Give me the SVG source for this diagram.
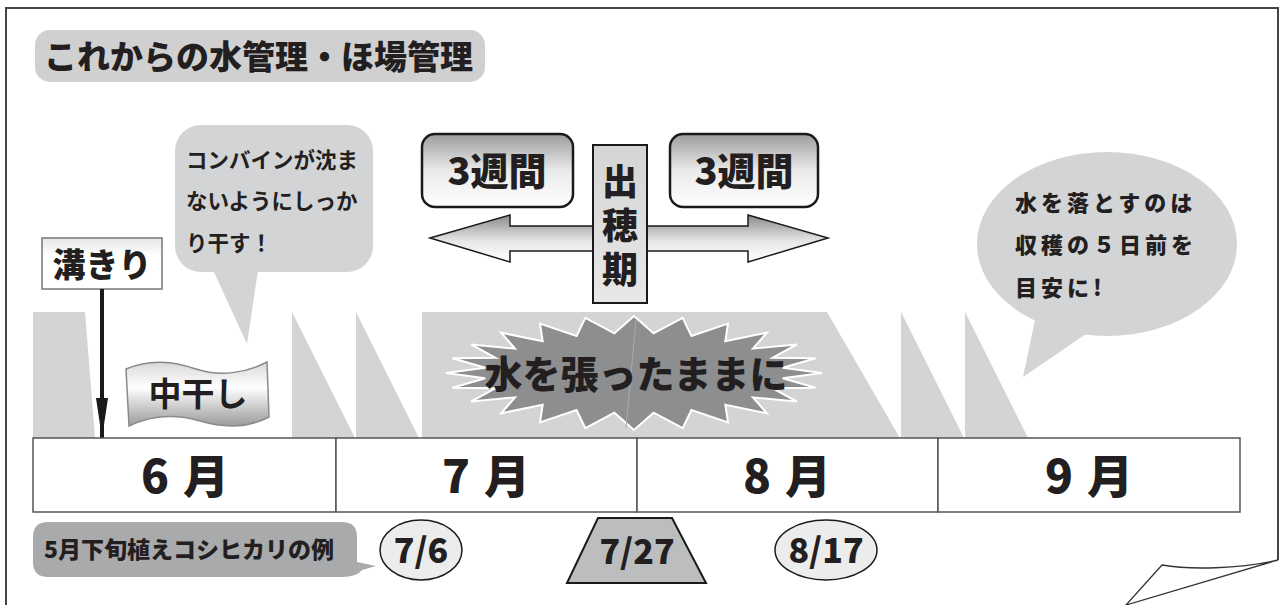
<svg xmlns="http://www.w3.org/2000/svg" width="1282" height="605" viewBox="0 0 1282 605">
<defs>
<style>
.jp{font-family:"Noto Sans CJK JP","Noto Sans CJK SC",sans-serif;fill:#231f20}
.hv{font-weight:900}
.bd{font-weight:700}
.md{font-weight:500}
.bg{fill:#d3d4d6}
.cell{fill:#fff;stroke:#555;stroke-width:1.5}
.mon{font-size:46px;letter-spacing:14px}
</style>
<linearGradient id="gBox" x1="0" y1="0" x2="0" y2="1">
<stop offset="0" stop-color="#9c9c9c"/><stop offset="0.5" stop-color="#eaeaea"/><stop offset="1" stop-color="#ffffff"/>
</linearGradient>
<linearGradient id="gArrow" x1="0" y1="0" x2="0" y2="1">
<stop offset="0" stop-color="#8a8a8a"/><stop offset="0.55" stop-color="#e6e6e6"/><stop offset="1" stop-color="#ffffff"/>
</linearGradient>
<linearGradient id="gFlag" x1="0" y1="0" x2="0" y2="1">
<stop offset="0" stop-color="#d8d8d8"/><stop offset="0.4" stop-color="#ffffff"/><stop offset="1" stop-color="#9a9a9a"/>
</linearGradient>
<linearGradient id="gTag" x1="0" y1="0" x2="0" y2="1">
<stop offset="0" stop-color="#e6e6e6"/><stop offset="0.35" stop-color="#ffffff"/><stop offset="1" stop-color="#ffffff"/>
</linearGradient>
<linearGradient id="gPost" x1="0" y1="0" x2="0" y2="1">
<stop offset="0" stop-color="#d4d4d4"/><stop offset="1" stop-color="#e8e8e8"/>
</linearGradient>
<marker id="ah" viewBox="0 0 40 12" refX="40" refY="6" markerWidth="40" markerHeight="12" markerUnits="userSpaceOnUse" orient="auto">
<path d="M0,0 L40,6 L0,12 Z" fill="#1a1a1a"/>
</marker>
</defs>

<!-- frame -->
<path id="frame" d="M6,605 L6,8 L1278,8 L1278,560" fill="none" stroke="#444" stroke-width="2"/>
<path id="curl" d="M1278,560 C1240,569 1190,570 1162,565 L1126,605 Z" fill="#fff" stroke="#333" stroke-width="1.3" stroke-linejoin="miter"/>

<!-- background gray bands -->
<g id="bands">
<path class="bg" d="M33,312 L85,312 L95,438 L33,438 Z"/>
<path class="bg" d="M292,312 L355,438 L292,438 Z"/>
<path class="bg" d="M356,312 L419,438 L356,438 Z"/>
<path class="bg" d="M422,312 L827,312 L900,438 L422,438 Z"/>
<path class="bg" d="M901,312 L964,438 L901,438 Z"/>
<path class="bg" d="M965,312 L1028,438 L965,438 Z"/>
</g>

<!-- title -->
<g id="title">
<rect x="35" y="30" width="450" height="52" rx="15" fill="#d0d0d0"/>
<text class="jp hv" x="44" y="69" font-size="33">これからの水管理・ほ場管理</text>
</g>

<!-- bubble combine -->
<g id="bubble1">
<path d="M213,270 L247,344 L258,270 Z" fill="#d3d4d6"/>
<rect x="175" y="125" width="198" height="147" rx="26" fill="#d3d4d6"/>
<text class="jp bd" font-size="21.5" x="186" y="168">コンバインが沈ま</text>
<text class="jp bd" font-size="21.5" x="186" y="209">ないようにしっか</text>
<text class="jp bd" font-size="21.5" x="186" y="251">り干す！</text>
</g>

<!-- mizokiri -->
<g id="mizokiri">
<rect x="42" y="238" width="120" height="51" fill="url(#gTag)" stroke="#777" stroke-width="1.5"/>
<text class="jp hv" font-size="33" x="102" y="277" text-anchor="middle">溝きり</text>
</g>

<!-- nakaboshi -->
<g id="nakaboshi">
<path d="M126,369 C150,359 172,361 196,369 C220,377 246,373 267,362 L269,417 C248,428 224,428 200,421 C176,414 152,415 129,426 Z" fill="url(#gFlag)" stroke="#8a8a8a" stroke-width="1.5"/>
<text class="jp bd" font-size="33" x="198" y="406" text-anchor="middle">中干し</text>
</g>

<!-- starburst -->
<g id="burst">
<polygon points="822,373 782.7,378.2 815.6,387.8 772.6,388.3 796.8,401.5 753,397.4 766.9,413.3 725.3,404.7 728,422.4 691.4,410 682.7,428.1 653.6,412.7 634,430 614.4,412.7 585.3,428.1 576.6,410 540,422.4 542.7,404.7 501.1,413.3 515,397.4 471.2,401.5 495.4,388.3 452.4,387.8 485.3,378.2 446,373 485.3,367.8 452.4,358.2 495.4,357.7 471.2,344.5 515,348.6 501.1,332.7 542.7,341.3 540,323.6 576.6,336 585.3,317.9 614.4,333.3 634,316 653.6,333.3 682.7,317.9 691.4,336 728,323.6 725.3,341.3 766.9,332.7 753,348.6 796.8,344.5 772.6,357.7 815.6,358.2 782.7,367.8" fill="#8d8e90" stroke="#ffffff" stroke-width="2" stroke-linejoin="miter"/>
<line x1="636" y1="320" x2="626" y2="428" stroke="#a9aaac" stroke-width="1"/>
<text class="jp hv" font-size="38" x="636" y="388" text-anchor="middle">水を張ったままに</text>
</g>

<!-- connectors -->
<g id="connectors">
<path d="M430,238 L510,215 L510,226 L748,226 L748,215 L828,238 L748,262 L748,251 L510,251 L510,262 Z" fill="url(#gArrow)" stroke="#1a1a1a" stroke-width="1.5" stroke-linejoin="miter"/>
<line x1="102" y1="289" x2="102" y2="438" stroke="#1a1a1a" stroke-width="4" marker-end="url(#ah)"/>
</g>

<!-- 3 weeks boxes -->
<g id="weeksL">
<rect x="422" y="134" width="151" height="73" rx="13" fill="url(#gBox)" stroke="#1a1a1a" stroke-width="2.5"/>
<text class="jp hv" font-size="38" x="497" y="185" text-anchor="middle">3週間</text>
</g>
<g id="weeksR">
<rect x="670" y="134" width="148" height="73" rx="13" fill="url(#gBox)" stroke="#1a1a1a" stroke-width="2.5"/>
<text class="jp hv" font-size="38" x="744" y="185" text-anchor="middle">3週間</text>
</g>

<!-- heading stage -->
<g id="shussuiki">
<rect x="593" y="145" width="54" height="158" fill="url(#gPost)" stroke="#1a1a1a" stroke-width="2"/>
<text class="jp hv" font-size="36" x="620" y="163" writing-mode="vertical-rl" letter-spacing="8">出穂期</text>
</g>

<!-- right bubble -->
<g id="bubble2">
<path d="M1035,320 L1023,377 L1086,334 Z" fill="#d3d4d6"/>
<ellipse cx="1107" cy="244" rx="130" ry="92" fill="#d3d4d6"/>
<text class="jp hv" font-size="22" x="1015" y="211" letter-spacing="4">水を落とすのは</text>
<text class="jp hv" font-size="22" x="1015" y="253" letter-spacing="4">収穫の５日前を</text>
<text class="jp hv" font-size="22" x="1015" y="296" letter-spacing="4">目安に!</text>
</g>

<!-- month table -->
<g id="months">
<rect class="cell" x="33" y="438" width="303" height="74"/>
<rect class="cell" x="336" y="438" width="301" height="74"/>
<rect class="cell" x="637" y="438" width="301" height="74"/>
<rect class="cell" x="938" y="438" width="302" height="74"/>
<text class="jp hv mon" x="192" y="493" text-anchor="middle">6月</text>
<text class="jp hv mon" x="493" y="493" text-anchor="middle">7月</text>
<text class="jp hv mon" x="794" y="493" text-anchor="middle">8月</text>
<text class="jp hv mon" x="1096" y="493" text-anchor="middle">9月</text>
</g>

<!-- bottom label -->
<g id="example">
<path d="M48,522 L342,522 Q357,522 357,537 L357,562 L376,566 L362,570 Q357,577 342,577 L48,577 Q33,577 33,562 L33,537 Q33,522 48,522 Z" fill="#a9aaac"/>
<text class="jp hv" font-size="23" x="44" y="558">5月下旬植えコシヒカリの例</text>
</g>

<g id="d706">
<ellipse cx="421" cy="550" rx="41" ry="30" fill="#ececec" stroke="#1a1a1a" stroke-width="1.5"/>
<text class="jp hv" font-size="34" x="421" y="563" text-anchor="middle">7/6</text>
</g>
<g id="d727">
<polygon points="598,518 672,518 706,583 567,583" fill="#bcbdbf" stroke="#1a1a1a" stroke-width="2"/>
<text class="jp hv" font-size="34" x="637" y="564" text-anchor="middle">7/27</text>
</g>
<g id="d817">
<ellipse cx="826" cy="550" rx="51" ry="30" fill="#ececec" stroke="#1a1a1a" stroke-width="1.5"/>
<text class="jp hv" font-size="34" x="826" y="563" text-anchor="middle">8/17</text>
</g>
</svg>
